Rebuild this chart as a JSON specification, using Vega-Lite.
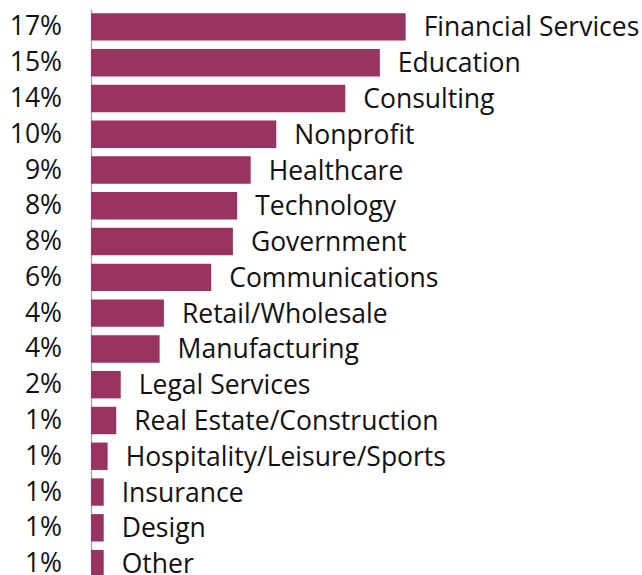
{
  "$schema": "https://vega.github.io/schema/vega-lite/v6.json",
  "autosize": {"type": "none"},
  "width": 551,
  "height": 566,
  "padding": {"left": 91, "top": 9, "right": 0, "bottom": 0},
  "background": "white",
  "config": {"view": {"stroke": null}, "font": "Open Sans"},
  "data": {
    "values": [
      {"category": "Financial Services", "value": 16.83, "label": "17%"},
      {"category": "Education", "value": 15.45, "label": "15%"},
      {"category": "Consulting", "value": 13.6, "label": "14%"},
      {"category": "Nonprofit", "value": 9.91, "label": "10%"},
      {"category": "Healthcare", "value": 8.54, "label": "9%"},
      {"category": "Technology", "value": 7.82, "label": "8%"},
      {"category": "Government", "value": 7.59, "label": "8%"},
      {"category": "Communications", "value": 6.43, "label": "6%"},
      {"category": "Retail/Wholesale", "value": 3.9, "label": "4%"},
      {"category": "Manufacturing", "value": 3.67, "label": "4%"},
      {"category": "Legal Services", "value": 1.59, "label": "2%"},
      {"category": "Real Estate/Construction", "value": 1.35, "label": "1%"},
      {"category": "Hospitality/Leisure/Sports", "value": 0.89, "label": "1%"},
      {"category": "Insurance", "value": 0.68, "label": "1%"},
      {"category": "Design", "value": 0.68, "label": "1%"},
      {"category": "Other", "value": 0.68, "label": "1%"}
    ]
  },
  "encoding": {
    "y": {
      "field": "category",
      "type": "nominal",
      "sort": null,
      "scale": {"range": [0, 572.5], "paddingInner": 0.234, "paddingOuter": 0.117},
      "axis": {"labels": false, "ticks": false, "title": null, "domainColor": "#a0a0a0", "domainWidth": 1.2}
    }
  },
  "layer": [
    {
      "mark": {"type": "bar", "color": "#993462"},
      "encoding": {
        "x": {"field": "value", "type": "quantitative", "scale": {"domain": [0, 29.47], "nice": false}, "axis": null}
      }
    },
    {
      "mark": {"type": "text", "align": "left", "baseline": "middle", "dx": 18, "dy": 1.5, "fontSize": 26.5, "color": "#111111"},
      "encoding": {
        "x": {"field": "value", "type": "quantitative"},
        "text": {"field": "category"}
      }
    },
    {
      "mark": {"type": "text", "align": "right", "baseline": "middle", "dx": -29, "dy": 0.5, "fontSize": 26.5, "color": "#111111"},
      "encoding": {
        "x": {"datum": 0, "type": "quantitative"},
        "text": {"field": "label"}
      }
    }
  ]
}
